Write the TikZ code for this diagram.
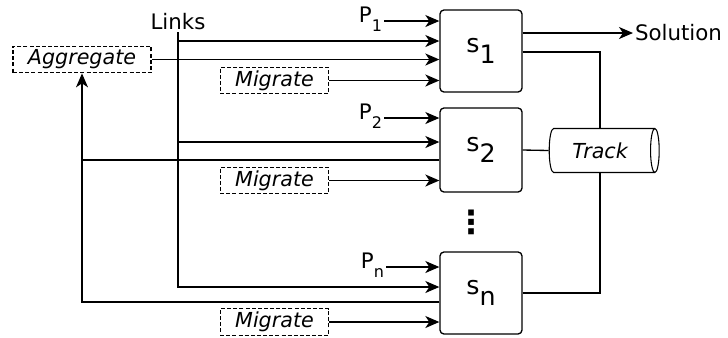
\documentclass[tikz,border=0pt]{standalone}
\usepackage{fontspec}
\setmainfont{DejaVu Sans}
\usepackage{tikz}
\usetikzlibrary{shapes.geometric, arrows.meta, positioning, calc}

\begin{document}
\begin{tikzpicture}[
    x=0.75pt, y=-0.75pt,
    line width=1pt,
    solver/.style={rectangle, rounded corners=3pt, draw, minimum width=61.5pt, minimum height=61.5pt, inner sep=0pt, font=\fontsize{19}{19}\selectfont},
    op/.style={rectangle, draw, dash pattern=on 3pt off 1.6pt, line width=0.8pt, minimum width=81.5pt, minimum height=20pt, inner sep=0pt, font=\fontsize{15.5}{15.5}\selectfont\itshape},
    lbl/.style={inner sep=1pt, font=\fontsize{16}{16}\selectfont},
    arrow/.style={-{Stealth[length=10.5pt, width=9pt, inset=3pt]}}
]
    \useasboundingbox (0,0) rectangle (728,337);

    % solvers
    \node[solver] (s1) at (481,51) {s\raisebox{-8pt}{1}};
    \node[solver, minimum height=63pt] (s2) at (481,150) {s\raisebox{-8pt}{2}};
    \node[solver] (sn) at (481,293) {s\raisebox{-8pt}{n}};
    \node[font=\fontsize{24}{24}\selectfont\bfseries] (dots) at (471,222) {⋮};

    % operators
    \node[op, minimum width=103.5pt] (aggregate) at (82,59.5) {Aggregate};
    \node[op] (migrate1) at (274.5,80.5) {Migrate};
    \node[op] (migrate2) at (274.5,180.5) {Migrate};
    \node[op] (migrate3) at (274.5,322) {Migrate};
    \node[op, shape=cylinder, dash pattern=, inner ysep=7pt, minimum width=33pt, minimum height=82.5pt, shape aspect=0.25] (track) at (600,150.5) {Track};

    % labels
    \node[lbl] (links) at (178,22) {Links};
    \node[lbl, anchor=east] (p1) at (384,19) {P\raisebox{-7pt}{\fontsize{12}{12}\selectfont 1}};
    \node[lbl, anchor=east] (p2) at (384,116) {P\raisebox{-7pt}{\fontsize{12}{12}\selectfont 2}};
    \node[lbl, anchor=east] (pn) at (386,265) {P\raisebox{-7pt}{\fontsize{12}{12}\selectfont n}};
    \node[lbl, anchor=west] (solution) at (633,33) {Solution};

    % inputs
    \draw[arrow] (p1.east |- 0,21) -- (s1.west |- 0,21);
    \draw[arrow] (p2.east |- 0,118) -- (s2.west |- 0,118);
    \draw[arrow] (pn.east |- 0,267) -- (sn.west |- 0,267);
    \draw[arrow] (links.south) -- (links.south |- 0,287) -- (sn.west |- 0,287);
    \draw[arrow] (links.south |- 0,41) -- (s1.west |- 0,41);
    \draw[arrow] (links.south |- 0,142) -- (s2.west |- 0,142);
    \draw[arrow] (aggregate.east) -- (aggregate.east -| s1.west);
    \draw[arrow] (migrate1.east) -- (migrate1.east -| s1.west);
    \draw[arrow] (migrate2.east) -- (migrate2.east -| s2.west);
    \draw[arrow] (migrate3.east) -- (migrate3.east -| sn.west);

    % feedback
    \draw[arrow] (sn.west |- 0,302) -| (aggregate.south);
    \draw (s2.west |- 0,160) -- (aggregate.south |- 0,160);

    % outputs
    \draw[arrow] (s1.east |- 0,33) -- (solution.west);
    \draw (s1.east |- 0,52) -| (s1.east -| track.north) -- (track.north);
    \draw (s2.east) -- (track.west);
    \draw (sn.east) -| (track.south);
\end{tikzpicture}
\end{document}
